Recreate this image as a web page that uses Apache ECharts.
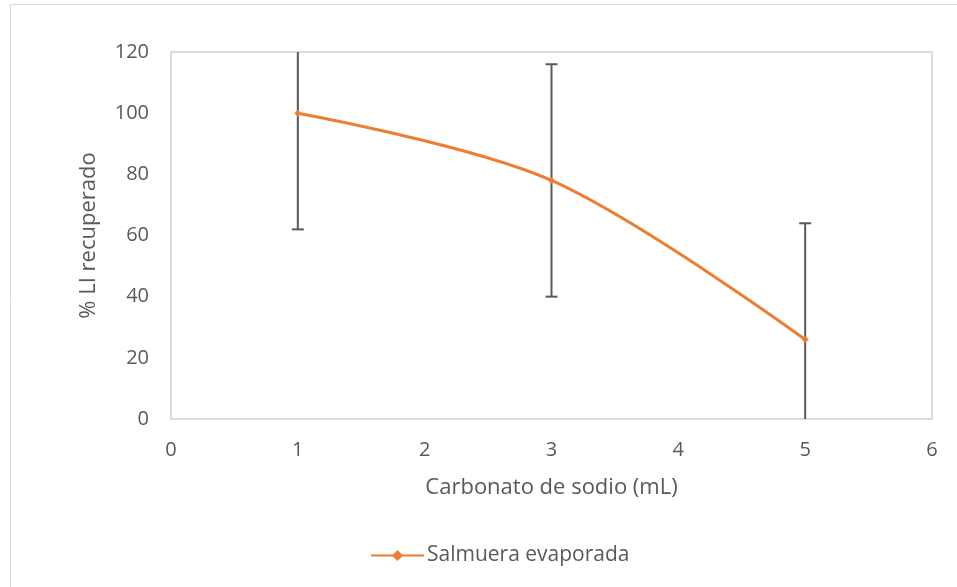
<!DOCTYPE html>
<html>
<head>
<meta charset="utf-8">
<script src="https://cdn.jsdelivr.net/npm/echarts@6/dist/echarts.min.js"></script>
<style>
  html, body { margin: 0; padding: 0; background: #fff; }
  #chart { width: 957px; height: 587px; }
</style>
</head>
<body>
<div id="chart"></div>
<script>
// Sodium carbonate volume (mL) vs. recovered Li (%)
const carbonatoML = [1, 3, 5];
const liRecuperado = [100, 78, 26];
const errorLi = [38, 38, 38];
const xTicks = [0, 1, 2, 3, 4, 5, 6];
const yTicks = [0, 20, 40, 60, 80, 100, 120];

const FONT = '"Open Sans", sans-serif';
const TEXT = '#595959';

const lineData = carbonatoML.map((x, i) => [x, liRecuperado[i]]);
const errData = carbonatoML.map((x, i) => [x, liRecuperado[i] - errorLi[i], liRecuperado[i] + errorLi[i]]);

const chart = echarts.init(document.getElementById('chart'), null, { renderer: 'canvas' });

chart.setOption({
  animation: false,
  backgroundColor: '#fff',
  textStyle: { fontFamily: FONT },
  graphic: [{
    type: 'rect',
    shape: { x: 10.5, y: 4.5, width: 1000, height: 700 },
    style: { fill: 'none', stroke: '#d9d9d9', lineWidth: 1 },
    silent: true, z: -1
  }],
  grid: {
    left: 171, top: 52, right: 25, bottom: 168,
    show: true, borderColor: '#d0d0d0', borderWidth: 1.5,
    containLabel: false
  },
  legend: {
    left: 365, top: 540,
    itemWidth: 53, itemHeight: 14, itemGap: 5,
    textStyle: { fontFamily: FONT, fontSize: 21, color: TEXT, padding: [0, 0, 0, -2] },
    data: ['Salmuera evaporada']
  },
  xAxis: {
    type: 'value',
    min: xTicks[0], max: xTicks[xTicks.length - 1], interval: 1,
    name: 'Carbonato de sodio (mL)',
    nameLocation: 'middle', nameGap: 58,
    nameTextStyle: { fontFamily: FONT, fontSize: 22, color: TEXT },
    axisLine: { show: false },
    axisTick: { show: false },
    splitLine: { show: false },
    axisLabel: { margin: 21, fontFamily: FONT, fontSize: 20, color: TEXT }
  },
  yAxis: {
    type: 'value',
    min: yTicks[0], max: yTicks[yTicks.length - 1], interval: 20,
    name: '% LI recuperado',
    nameLocation: 'middle', nameGap: 71, nameRotate: 90,
    nameTextStyle: { fontFamily: FONT, fontSize: 22, color: TEXT },
    axisLine: { show: false },
    axisTick: { show: false },
    splitLine: { show: false },
    axisLabel: { margin: 22, fontFamily: FONT, fontSize: 20, color: TEXT }
  },
  series: [
    {
      name: 'Salmuera evaporada',
      type: 'line',
      data: lineData,
      smooth: 0.33,
      symbol: 'diamond',
      symbolSize: 7,
      showSymbol: true,
      itemStyle: { color: '#ED7D31' },
      lineStyle: { color: '#ED7D31', width: 3 },
      z: 3
    },
    {
      name: 'error',
      type: 'custom',
      data: errData,
      clip: true,
      z: 2,
      encode: { x: 0, y: [1, 2] },
      renderItem: function (params, api) {
        const x = api.value(0);
        const lo = api.coord([x, api.value(1)]);
        const hi = api.coord([x, api.value(2)]);
        const half = 6;
        const style = { stroke: '#595959', lineWidth: 2 };
        return {
          type: 'group',
          children: [
            { type: 'line', shape: { x1: lo[0], y1: lo[1], x2: hi[0], y2: hi[1] }, style: style },
            { type: 'line', shape: { x1: lo[0] - half, y1: lo[1], x2: lo[0] + half, y2: lo[1] }, style: style },
            { type: 'line', shape: { x1: hi[0] - half, y1: hi[1], x2: hi[0] + half, y2: hi[1] }, style: style }
          ]
        };
      }
    }
  ]
});
</script>
</body>
</html>
